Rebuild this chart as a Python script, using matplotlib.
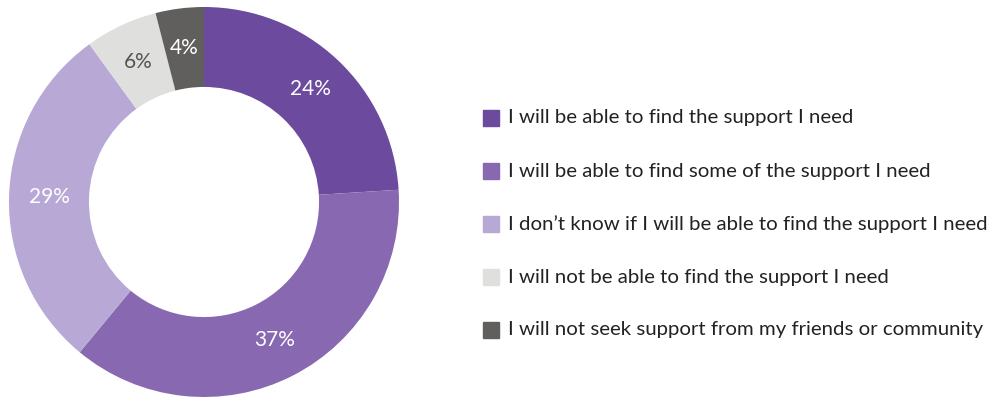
import matplotlib
matplotlib.use('Agg')
import matplotlib.pyplot as plt
from matplotlib.patches import Rectangle
import numpy as np

plt.rcParams['font.family'] = ['Lato', 'DejaVu Sans']

# survey answers, clockwise from 12 o'clock
LABELS = ['I will be able to find the support I need',
          'I will be able to find some of the support I need',
          'I don\u2019t know if I will be able to find the support I need',
          'I will not be able to find the support I need',
          'I will not seek support from my friends or community']
VALUES = [24, 37, 29, 6, 4]
COLORS = ['#6c4a9e', '#8869b1', '#b8a8d5', '#dfe0de', '#605f5e']
TXT_COLORS = ['white', 'white', 'white', '#555555', 'white']

W, H = 989, 398
fig = plt.figure(figsize=(W / 100, H / 100), dpi=100)

# donut: centre (204, 202) px, outer radius 195 px
cx, cy, R = 204, 202, 195
ax = fig.add_axes([(cx - R) / W, (H - cy - R) / H, 2 * R / W, 2 * R / H])
wedges, _ = ax.pie(VALUES, colors=COLORS, startangle=90, counterclock=False,
                   radius=1.0, wedgeprops=dict(width=0.41, linewidth=0))
ax.set_xlim(-1, 1)
ax.set_ylim(-1, 1)
ax.set_aspect('equal')
ax.axis('off')

# percentage labels in the middle of the ring
for w, v, tc in zip(wedges, VALUES, TXT_COLORS):
    mid = np.deg2rad((w.theta1 + w.theta2) / 2)
    r = 0.795
    ax.text(r * np.cos(mid), r * np.sin(mid), '%d%%' % v, ha='center', va='center',
            fontsize=15, color=tc)

# legend, drawn by hand
row_y = [118, 171, 224, 277, 330]
for i, (lab, col) in enumerate(zip(LABELS, COLORS)):
    y = row_y[i]
    fig.patches.append(Rectangle((483 / W, (H - y - 8) / H), 16 / W, 16 / H,
                                 transform=fig.transFigure, color=col, figure=fig))
    fig.text(508 / W, (H - y) / H, lab, ha='left', va='center', fontsize=14.7,
             color='#222222')

fig.savefig('out.png', dpi=100)
